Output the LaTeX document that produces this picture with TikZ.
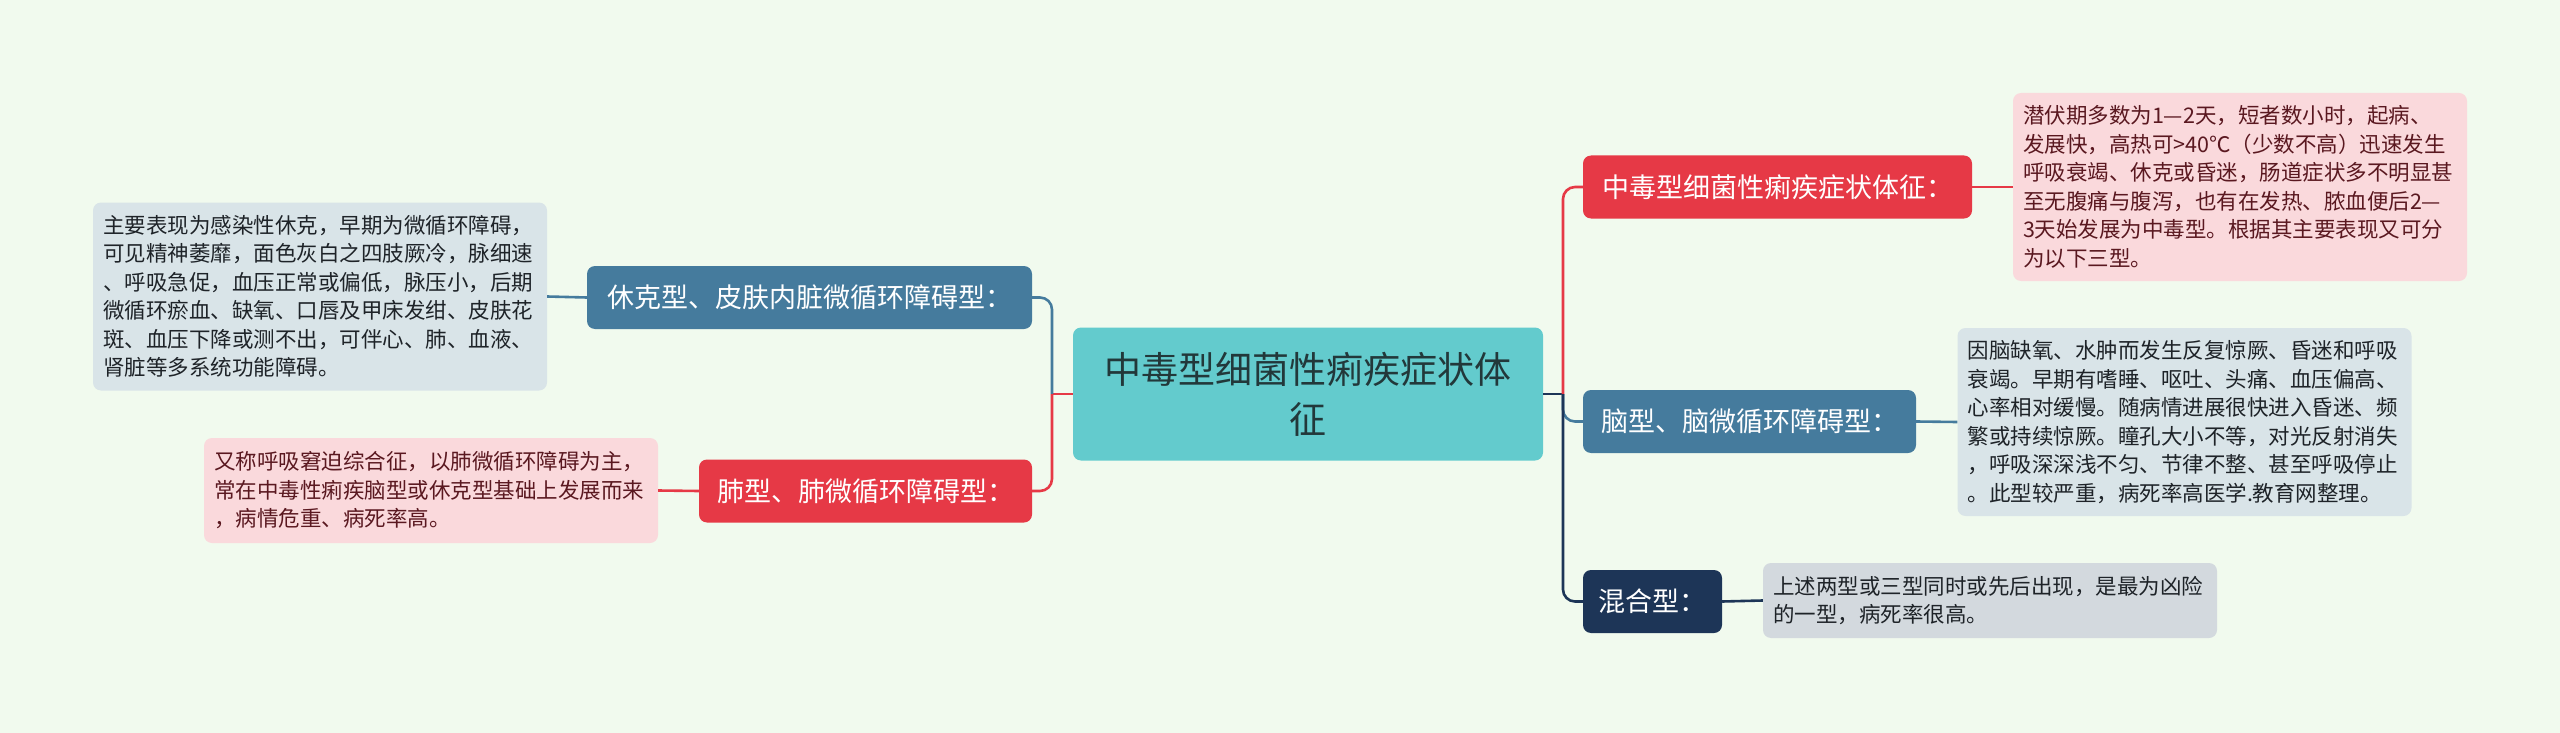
\documentclass[tikz,border=0pt]{standalone}
\usepackage{fontspec}
\newfontfamily\cjk{Noto Sans CJK SC}
\definecolor{bg}{HTML}{F1FAEE}
\definecolor{topicfill}{HTML}{63CBCD}
\definecolor{topictext}{HTML}{22383A}
\definecolor{redfill}{HTML}{E63946}
\definecolor{bluefill}{HTML}{457B9D}
\definecolor{navyfill}{HTML}{1D3557}
\definecolor{rednote}{HTML}{FAD9DC}
\definecolor{redtext}{HTML}{5A1820}
\definecolor{bluenote}{HTML}{D9E4E8}
\definecolor{greynote}{HTML}{D3D9DE}
\definecolor{notetext}{HTML}{1E2328}

\begin{document}
\begin{tikzpicture}[x=1pt,y=-1pt,
		every node/.style={font=\cjk, rounded corners=8pt, inner sep=0pt},
		topic/.style={fill=topicfill, text=topictext, minimum width=470pt, minimum height=133pt, align=center, font=\cjk\fontsize{37}{50}\selectfont},
		sub/.style={minimum height=63pt, text=white, align=center, font=\cjk\fontsize{27}{32}\selectfont},
		note/.style={text=notetext, text width=434pt, inner xsep=10pt, align=left, font=\cjk\fontsize{21.5}{28.5}\selectfont},
		link/.style={line width=2.6pt, rounded corners=12pt}]
			\fill[bg] (0,0) rectangle (2560,733);
			% centre
			\node[topic] (main) at (1308,394) {中毒型细菌性痢疾症状体\\征};
			\coordinate (lj) at (1052,394);
			\coordinate (rj) at (1563,394);
			% left side
			\node[sub, fill=bluefill, minimum width=445pt] (shock) at (809.5,297.5) {休克型、皮肤内脏微循环障碍型：};
			\node[sub, fill=redfill, minimum width=333pt] (lung) at (865.5,491) {肺型、肺微循环障碍型：};
			\node[note, fill=bluenote, minimum height=188pt] (shocknote) at (320,296.5) {主要表现为感染性休克，早期为微循环障碍，\\可见精神萎靡，面色灰白之四肢厥冷，脉细速\\、呼吸急促，血压正常或偏低，脉压小，后期\\微循环瘀血、缺氧、口唇及甲床发绀、皮肤花\\斑、血压下降或测不出，可伴心、肺、血液、\\肾脏等多系统功能障碍。};
			\node[note, fill=rednote, text=redtext, minimum height=105pt] (lungnote) at (431,490.5) {又称呼吸窘迫综合征，以肺微循环障碍为主，\\常在中毒性痢疾脑型或休克型基础上发展而来\\，病情危重、病死率高。};
			% right side
			\node[sub, fill=redfill, minimum width=389pt] (toxic) at (1777.5,187) {中毒型细菌性痢疾症状体征：};
			\node[sub, fill=bluefill, minimum width=333pt] (brain) at (1749.5,421.5) {脑型、脑微循环障碍型：};
			\node[sub, fill=navyfill, minimum width=139pt] (mixed) at (1652.5,601.5) {混合型：};
			\node[note, fill=rednote, text=redtext, minimum height=188pt] (toxicnote) at (2240,187) {潜伏期多数为1—2天，短者数小时，起病、\\发展快，高热可>40℃（少数不高）迅速发生\\呼吸衰竭、休克或昏迷，肠道症状多不明显甚\\至无腹痛与腹泻，也有在发热、脓血便后2—\\3天始发展为中毒型。根据其主要表现又可分\\为以下三型。};
			\node[note, fill=bluenote, minimum height=188pt] (brainnote) at (2184.5,422) {因脑缺氧、水肿而发生反复惊厥、昏迷和呼吸\\衰竭。早期有嗜睡、呕吐、头痛、血压偏高、\\心率相对缓慢。随病情进展很快进入昏迷、频\\繁或持续惊厥。瞳孔大小不等，对光反射消失\\，呼吸深深浅不匀、节律不整、甚至呼吸停止\\。此型较严重，病死率高医学.教育网整理。};
			\node[note, fill=greynote, minimum height=75pt] (mixednote) at (1990,600.5) {上述两型或三型同时或先后出现，是最为凶险\\的一型，病死率很高。};
			% links
			\draw[link, redfill] (main.west) -- (lj);
			\draw[link, bluefill] (lj) |- (shock.east);
			\draw[link, redfill] (lj) |- (lung.east);
			\draw[link, navyfill] (main.east) -- (rj);
			\draw[link, redfill] (rj) |- (toxic.west);
			\draw[link, bluefill] (rj) |- (brain.west);
			\draw[link, navyfill] (rj) |- (mixed.west);
			\draw[link, bluefill] (shocknote.east) -- (shock.west);
			\draw[link, redfill] (lungnote.east) -- (lung.west);
			\draw[link, redfill] (toxic.east) -- (toxicnote.west);
			\draw[link, bluefill] (brain.east) -- (brainnote.west);
			\draw[link, navyfill] (mixed.east) -- (mixednote.west);
		\end{tikzpicture}
\end{document}
